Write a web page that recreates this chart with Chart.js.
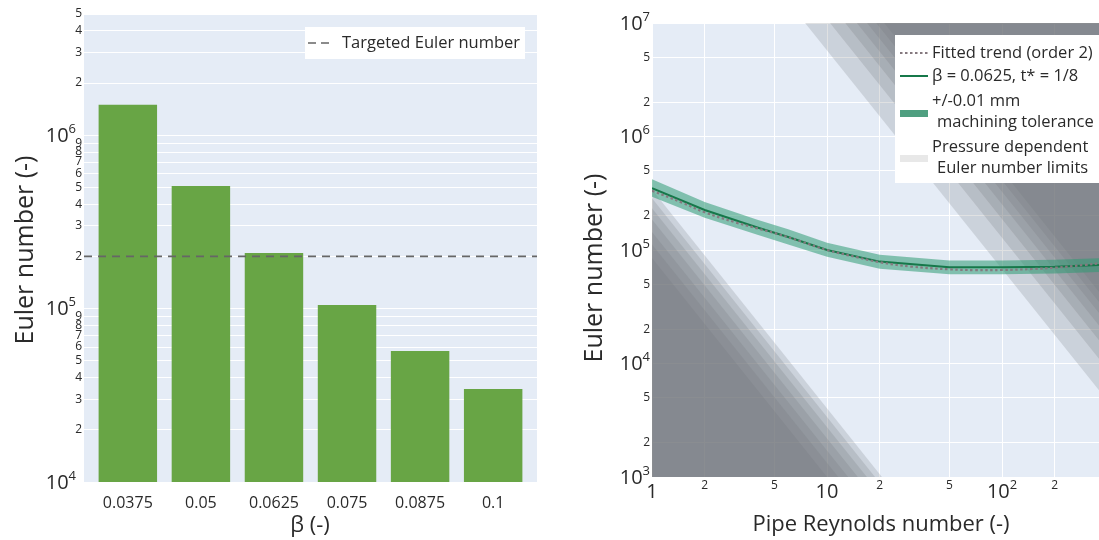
<!DOCTYPE html>
<html><head><meta charset="utf-8">
<script src="https://cdn.jsdelivr.net/npm/chart.js@4.4.1/dist/chart.umd.min.js"></script>
<style>
html,body{margin:0;padding:0;background:#fff;width:1099px;height:540px;overflow:hidden}
#cl{position:absolute;left:0;top:0}
#cr{position:absolute;left:560px;top:0}
</style></head><body>
<canvas id="cl" width="560" height="540"></canvas>
<canvas id="cr" width="539" height="540"></canvas>
<script>
// ---------- Left chart data ----------
const betaCategories = ['0.0375', '0.05', '0.0625', '0.075', '0.0875', '0.1'];
const eulerByBeta = [1.5e6, 5.1e5, 2.09e5, 1.05e5, 5.7e4, 3.44e4];
const targetEuler = 2e5;
const categoryRange = [-0.6, 5.6];   // category axis range (index units), as in the reference
const leftYTicks = [1e4, 2e4, 3e4, 4e4, 5e4, 6e4, 7e4, 8e4, 9e4,
                    1e5, 2e5, 3e5, 4e5, 5e5, 6e5, 7e5, 8e5, 9e5,
                    1e6, 2e6, 3e6, 4e6, 5e6];
const leftYTickLabels = ['10^4', '2', '3', '4', '5', '6', '7', '8', '9',
                         '10^5', '2', '3', '4', '5', '6', '7', '8', '9',
                         '10^6', '2', '3', '4', '5'];

// ---------- Right chart data ----------
const reynolds = [1, 2, 4, 6, 10, 20, 50, 100, 200, 358];
const eulerMeasured = [3.5e5, 2.25e5, 1.58e5, 1.3e5, 1.0e5, 7.9e4, 7.05e4, 7.05e4, 7.13e4, 7.38e4];
const eulerTolUpper = [4.2e5, 2.65e5, 1.85e5, 1.52e5, 1.16e5, 9.1e4, 8.1e4, 8.1e4, 8.2e4, 8.45e4];
const eulerTolLower = [2.95e5, 1.92e5, 1.36e5, 1.12e5, 8.7e4, 6.85e4, 6.1e4, 6.1e4, 6.2e4, 6.4e4];
const fitReynolds = [1, 1.5, 2, 3, 4, 5, 7, 10, 15, 20, 30, 50, 70, 100, 150, 200, 300, 358];
const eulerFit = [3.33e5, 2.6e5, 2.15e5, 1.75e5, 1.55e5, 1.41e5, 1.2e5, 1.0e5, 8.6e4, 7.8e4,
                  7.15e4, 6.76e4, 6.65e4, 6.67e4, 6.8e4, 6.98e4, 7.4e4, 7.64e4];
// pressure dependent limits (lower-left family: Eu at Re=1 and Re where Eu = 1e3)
const lowLimitEuAtRe1 = [8.5e4, 1.12e5, 1.44e5, 1.86e5, 2.33e5, 2.86e5, 3.41e5];
const lowLimitReAtEuMin = [10, 11.6, 13.2, 15.0, 16.9, 18.8, 20.6];
// upper-right family: Re where Eu = 1e7 and Eu at right edge
const highLimitReAtEuMax = [7.49, 10.4, 12.7, 14.8, 16.9, 19.1, 21.2];
const highLimitEuAtReMax = [5.8e3, 1.1e4, 1.6e4, 2.16e4, 2.79e4, 3.48e4, 4.27e4];
const reMin = 1, reMax = 358, euMin = 1e3, euMax = 1e7;
const rightXTicks = [1, 2, 5, 10, 20, 50, 100, 200];
const rightXTickLabels = ['1', '2', '5', '10', '2', '5', '10^2', '2'];
const rightYTicks = [1e3, 2e3, 5e3, 1e4, 2e4, 5e4, 1e5, 2e5, 5e5, 1e6, 2e6, 5e6, 1e7];
const rightYTickLabels = ['10^3', '2', '5', '10^4', '2', '5', '10^5', '2', '5', '10^6', '2', '5', '10^7'];

// ---------- helpers ----------
const FF = '"Open Sans", sans-serif';
const TXT = '#2a2a2a';
const PLOT_BG = '#E5ECF6';
Chart.defaults.font.family = FF;

function isPow10(v) { const l = Math.log10(v); return Math.abs(l - Math.round(l)) < 1e-9; }

function drawTickLabel(ctx, txt, x, y, align, major) {
  ctx.fillStyle = TXT;
  ctx.textBaseline = 'middle';
  const big = '20px ' + FF, sup = '13px ' + FF, small = '12px ' + FF;
  const parts = txt.split('^');
  if (parts.length === 2) {
    ctx.font = big; const w1 = ctx.measureText(parts[0]).width;
    ctx.font = sup; const w2 = ctx.measureText(parts[1]).width;
    const tot = w1 + w2;
    const x0 = align === 'right' ? x - tot : align === 'center' ? x - tot / 2 : x;
    ctx.textAlign = 'left';
    ctx.font = big; ctx.fillText(parts[0], x0, y + 1);
    ctx.font = sup; ctx.fillText(parts[1], x0 + w1, y - 6);
  } else {
    ctx.font = major ? big : small;
    ctx.textAlign = align;
    ctx.fillText(txt, x, y + (major ? 1 : 0));
  }
}

function bgPlugin(id) {
  return {
    id: id,
    beforeDraw(chart) {
      const a = chart.chartArea, ctx = chart.ctx;
      ctx.save(); ctx.fillStyle = PLOT_BG;
      ctx.fillRect(a.left, a.top, a.right - a.left, a.bottom - a.top);
      ctx.restore();
    }
  };
}

// ---------- Left chart ----------
const leftDecor = {
  id: 'leftDecor',
  afterDraw(chart) {
    const ctx = chart.ctx, ys = chart.scales.y, xs = chart.scales.x;
    ctx.save();
    leftYTicks.forEach((v, i) => {
      const py = ys.getPixelForValue(v);
      const lab = leftYTickLabels[i];
      drawTickLabel(ctx, lab, lab.includes('^') ? 76 : 82, py, 'right', isPow10(v));
    });
    betaCategories.forEach((c, i) => {
      ctx.font = '16px ' + FF; ctx.fillStyle = TXT;
      ctx.textAlign = 'center'; ctx.textBaseline = 'middle';
      ctx.fillText(c, xs.getPixelForValue(i), 503);
    });
    // axis titles
    ctx.fillStyle = TXT;
    ctx.textAlign = 'center'; ctx.textBaseline = 'middle';
    ctx.font = '22px ' + FF;
    ctx.fillText('β (-)', 310, 526);
    ctx.font = '25px ' + FF;
    ctx.save(); ctx.translate(26, 250); ctx.rotate(-Math.PI / 2);
    ctx.fillText('Euler number (-)', 0, 0); ctx.restore();
    // legend
    ctx.fillStyle = '#ffffff'; ctx.fillRect(305, 27, 220, 32);
    ctx.strokeStyle = '#666'; ctx.lineWidth = 1.6; ctx.setLineDash([8, 5]);
    ctx.beginPath(); ctx.moveTo(308, 43); ctx.lineTo(334, 43); ctx.stroke();
    ctx.setLineDash([]);
    ctx.font = '16.5px ' + FF; ctx.fillStyle = TXT; ctx.textAlign = 'left';
    ctx.fillText('Targeted Euler number', 342, 43);
    ctx.restore();
  }
};

new Chart(document.getElementById('cl'), {
  type: 'bar',
  data: {
    datasets: [
      { type: 'bar', label: 'Euler number', grouped: false,
        data: betaCategories.map((c, i) => ({ x: i, y: eulerByBeta[i] })),
        backgroundColor: '#68a545', categoryPercentage: 1, barPercentage: 0.8, order: 1 },
      { type: 'line', label: 'Targeted Euler number',
        data: [{ x: categoryRange[0], y: targetEuler }, { x: categoryRange[1], y: targetEuler }],
        borderColor: '#666666', borderWidth: 1.6, borderDash: [8, 6],
        pointRadius: 0, fill: false, order: 0 }
    ]
  },
  options: {
    responsive: false, animation: false, devicePixelRatio: 1,
    layout: { padding: { top: 14, right: 23, left: 0, bottom: 0 } },
    plugins: { legend: { display: false }, tooltip: { enabled: false } },
    scales: {
      x: { type: 'linear', min: categoryRange[0], max: categoryRange[1], offset: false,
           grid: { display: false, drawTicks: false }, border: { display: false },
           ticks: { display: false },
           afterBuildTicks(s) { s.ticks = betaCategories.map((c, i) => ({ value: i })); },
           afterFit(s) { s.height = 58; } },
      y: { type: 'logarithmic', min: 1e4, max: 5e6,
           grid: { color: '#ffffff', lineWidth: 1, drawTicks: false }, border: { display: false },
           ticks: { display: false },
           afterBuildTicks(s) { s.ticks = leftYTicks.map(v => ({ value: v })); },
           afterFit(s) { s.width = 84; } }
    }
  },
  plugins: [bgPlugin('bgL'), leftDecor]
});

// ---------- Right chart ----------
const GRAY = 'rgba(115,118,125,0.22)';
const grayDatasets = [];
lowLimitEuAtRe1.forEach((eu, i) => {
  grayDatasets.push({
    label: 'low' + i,
    data: [{ x: reMin, y: eu }, { x: lowLimitReAtEuMin[i], y: euMin }],
    fill: 'start', backgroundColor: GRAY, borderWidth: 0, pointRadius: 0, order: 10
  });
});
highLimitReAtEuMax.forEach((re, i) => {
  grayDatasets.push({
    label: 'high' + i,
    data: [{ x: re, y: euMax }, { x: reMax, y: highLimitEuAtReMax[i] }],
    fill: 'end', backgroundColor: GRAY, borderWidth: 0, pointRadius: 0, order: 10
  });
});
const tolUpper = { label: 'tolUp', data: reynolds.map((r, i) => ({ x: r, y: eulerTolUpper[i] })),
  fill: '+1', backgroundColor: 'rgba(45,155,115,0.55)', borderWidth: 0, pointRadius: 0, order: 5 };
const tolLower = { label: 'tolLow', data: reynolds.map((r, i) => ({ x: r, y: eulerTolLower[i] })),
  fill: false, borderWidth: 0, pointRadius: 0, order: 5 };
const measured = { label: 'β = 0.0625, t* = 1/8', data: reynolds.map((r, i) => ({ x: r, y: eulerMeasured[i] })),
  fill: false, borderColor: '#16784a', borderWidth: 2, pointRadius: 0, order: 2 };
const fitted = { label: 'Fitted trend (order 2)', data: fitReynolds.map((r, i) => ({ x: r, y: eulerFit[i] })),
  fill: false, borderColor: '#85797f', borderWidth: 2.2, borderDash: [2.5, 2.5], tension: 0.4,
  pointRadius: 0, order: 1 };

const rightDecor = {
  id: 'rightDecor',
  afterDraw(chart) {
    const ctx = chart.ctx, ys = chart.scales.y, xs = chart.scales.x;
    ctx.save();
    rightYTicks.forEach((v, i) => {
      drawTickLabel(ctx, rightYTickLabels[i], 90, ys.getPixelForValue(v), 'right', isPow10(v));
    });
    rightXTicks.forEach((v, i) => {
      const maj = isPow10(v);
      drawTickLabel(ctx, rightXTickLabels[i], xs.getPixelForValue(v), maj ? 491 : 486, 'center', maj);
    });
    ctx.fillStyle = TXT;
    ctx.textAlign = 'center'; ctx.textBaseline = 'middle';
    ctx.font = '22px ' + FF;
    ctx.fillText('Pipe Reynolds number (-)', 321, 525);
    ctx.font = '25px ' + FF;
    ctx.save(); ctx.translate(35, 268); ctx.rotate(-Math.PI / 2);
    ctx.fillText('Euler number (-)', 0, 0); ctx.restore();
    // legend
    const L = 335;
    ctx.fillStyle = '#ffffff'; ctx.fillRect(L, 35, 539 - L, 148);
    ctx.lineWidth = 2;
    ctx.strokeStyle = '#85797f'; ctx.setLineDash([2.5, 2.5]);
    ctx.beginPath(); ctx.moveTo(L + 5, 53); ctx.lineTo(L + 33, 53); ctx.stroke();
    ctx.setLineDash([]);
    ctx.strokeStyle = '#16784a';
    ctx.beginPath(); ctx.moveTo(L + 5, 76); ctx.lineTo(L + 33, 76); ctx.stroke();
    ctx.fillStyle = '#4f9f80'; ctx.fillRect(L + 5, 110, 28, 7);
    ctx.fillStyle = '#e8e8e8'; ctx.fillRect(L + 5, 155, 28, 7);
    ctx.font = '16.5px ' + FF; ctx.fillStyle = TXT; ctx.textAlign = 'left';
    ctx.fillText('Fitted trend (order 2)', L + 37, 53);
    ctx.fillText('β = 0.0625, t* = 1/8', L + 37, 76);
    ctx.fillText('+/-0.01 mm', L + 37, 101);
    ctx.fillText('machining tolerance', L + 42, 122);
    ctx.fillText('Pressure dependent', L + 37, 147);
    ctx.fillText('Euler number limits', L + 42, 168);
    ctx.restore();
  }
};

new Chart(document.getElementById('cr'), {
  type: 'line',
  data: { datasets: grayDatasets.concat([tolUpper, tolLower, measured, fitted]) },
  options: {
    responsive: false, animation: false, devicePixelRatio: 1,
    layout: { padding: { top: 23, right: 0, left: 0, bottom: 0 } },
    plugins: { legend: { display: false }, tooltip: { enabled: false } },
    scales: {
      x: { type: 'logarithmic', min: reMin, max: reMax,
           grid: { color: '#ffffff', lineWidth: 1, drawTicks: false }, border: { display: false },
           ticks: { display: false },
           afterBuildTicks(s) { s.ticks = rightXTicks.map(v => ({ value: v })); },
           afterFit(s) { s.height = 63; } },
      y: { type: 'logarithmic', min: euMin, max: euMax,
           grid: { color: '#ffffff', lineWidth: 1, drawTicks: false }, border: { display: false },
           ticks: { display: false },
           afterBuildTicks(s) { s.ticks = rightYTicks.map(v => ({ value: v })); },
           afterFit(s) { s.width = 92; } }
    }
  },
  plugins: [bgPlugin('bgR'), rightDecor]
});
</script>
</body></html>
